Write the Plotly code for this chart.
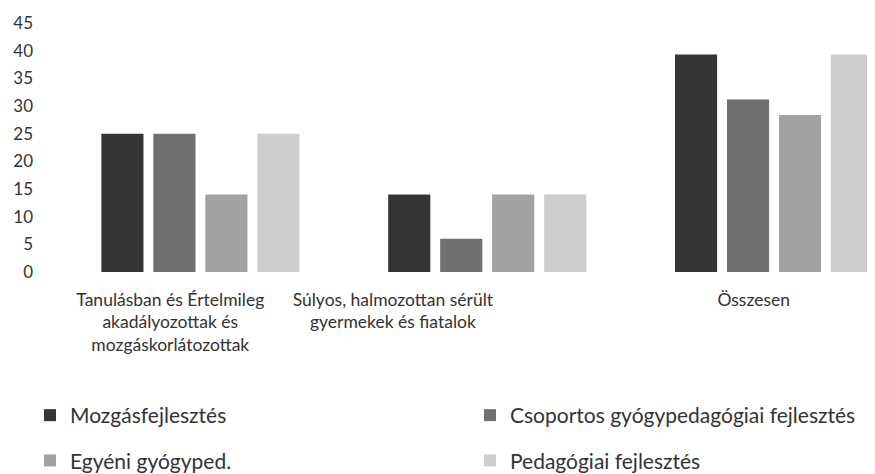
import plotly.graph_objects as go

categories = [
    "Tanulásban és Értelmileg<br>akadályozottak és<br>mozgáskorlátozottak",
    "Súlyos, halmozottan sérült<br>gyermekek és fiatalok",
    "Összesen",
]
series_names = [
    "Mozgásfejlesztés",
    "Csoportos gyógypedagógiai fejlesztés",
    "Egyéni gyógyped.",
    "Pedagógiai fejlesztés",
]
mozgas = [25, 14, 39.3]
csoportos = [25, 6, 31.2]
egyeni = [14, 14, 28.4]
pedagogiai = [25, 14, 39.3]
y_ticks = [0, 5, 10, 15, 20, 25, 30, 35, 40, 45]

values = [mozgas, csoportos, egyeni, pedagogiai]
colors = ["#353535", "#707070", "#a2a2a2", "#cdcdcd"]
legends = ["legend", "legend2", "legend", "legend2"]

FONT = "Lato"
TXT = "#333333"

fig = go.Figure()
for i, (name, vals) in enumerate(zip(series_names, values)):
    fig.add_trace(go.Bar(
        x=list(range(len(categories))), y=vals, name=name,
        marker=dict(color=colors[i], line=dict(width=0)),
        legend=legends[i], legendgroup=name,
    ))

# label anchor positions (the scanned chart's labels sit left of the bar groups)
label_pos = [-0.105, 0.671, 1.929]
xr = [-0.5, 2.352]

fig.update_layout(
    width=875, height=474,
    margin=dict(l=49, r=8, t=15, b=210, autoexpand=False),
    paper_bgcolor="white", plot_bgcolor="white",
    barmode="group", bargap=0.275, bargroupgap=0.19,
    font=dict(family=FONT, size=18, color=TXT),
    xaxis=dict(range=xr, tickmode="array", tickvals=label_pos, ticktext=categories,
               showgrid=False, zeroline=False, showline=False, ticks="",
               tickfont=dict(family=FONT, size=17.5, color=TXT), ticklabelstandoff=15),
    yaxis=dict(range=[0, 45.01], tickmode="array", tickvals=y_ticks,
               showgrid=False, zeroline=False, showline=False, ticks="",
               tickfont=dict(family=FONT, size=17, color=TXT), ticklabelstandoff=23),
    showlegend=True,
    legend=dict(x=(30 - 57) / 818, xanchor="left", y=(272 - 395) / 249, yanchor="top",
                orientation="v", tracegroupgap=15, font=dict(family=FONT, size=21, color=TXT),
                bgcolor="rgba(0,0,0,0)"),
    legend2=dict(x=(470 - 57) / 818, xanchor="left", y=(272 - 395) / 249, yanchor="top",
                 orientation="v", tracegroupgap=15, font=dict(family=FONT, size=21, color=TXT),
                 bgcolor="rgba(0,0,0,0)"),
)

fig.write_html("out.html")
